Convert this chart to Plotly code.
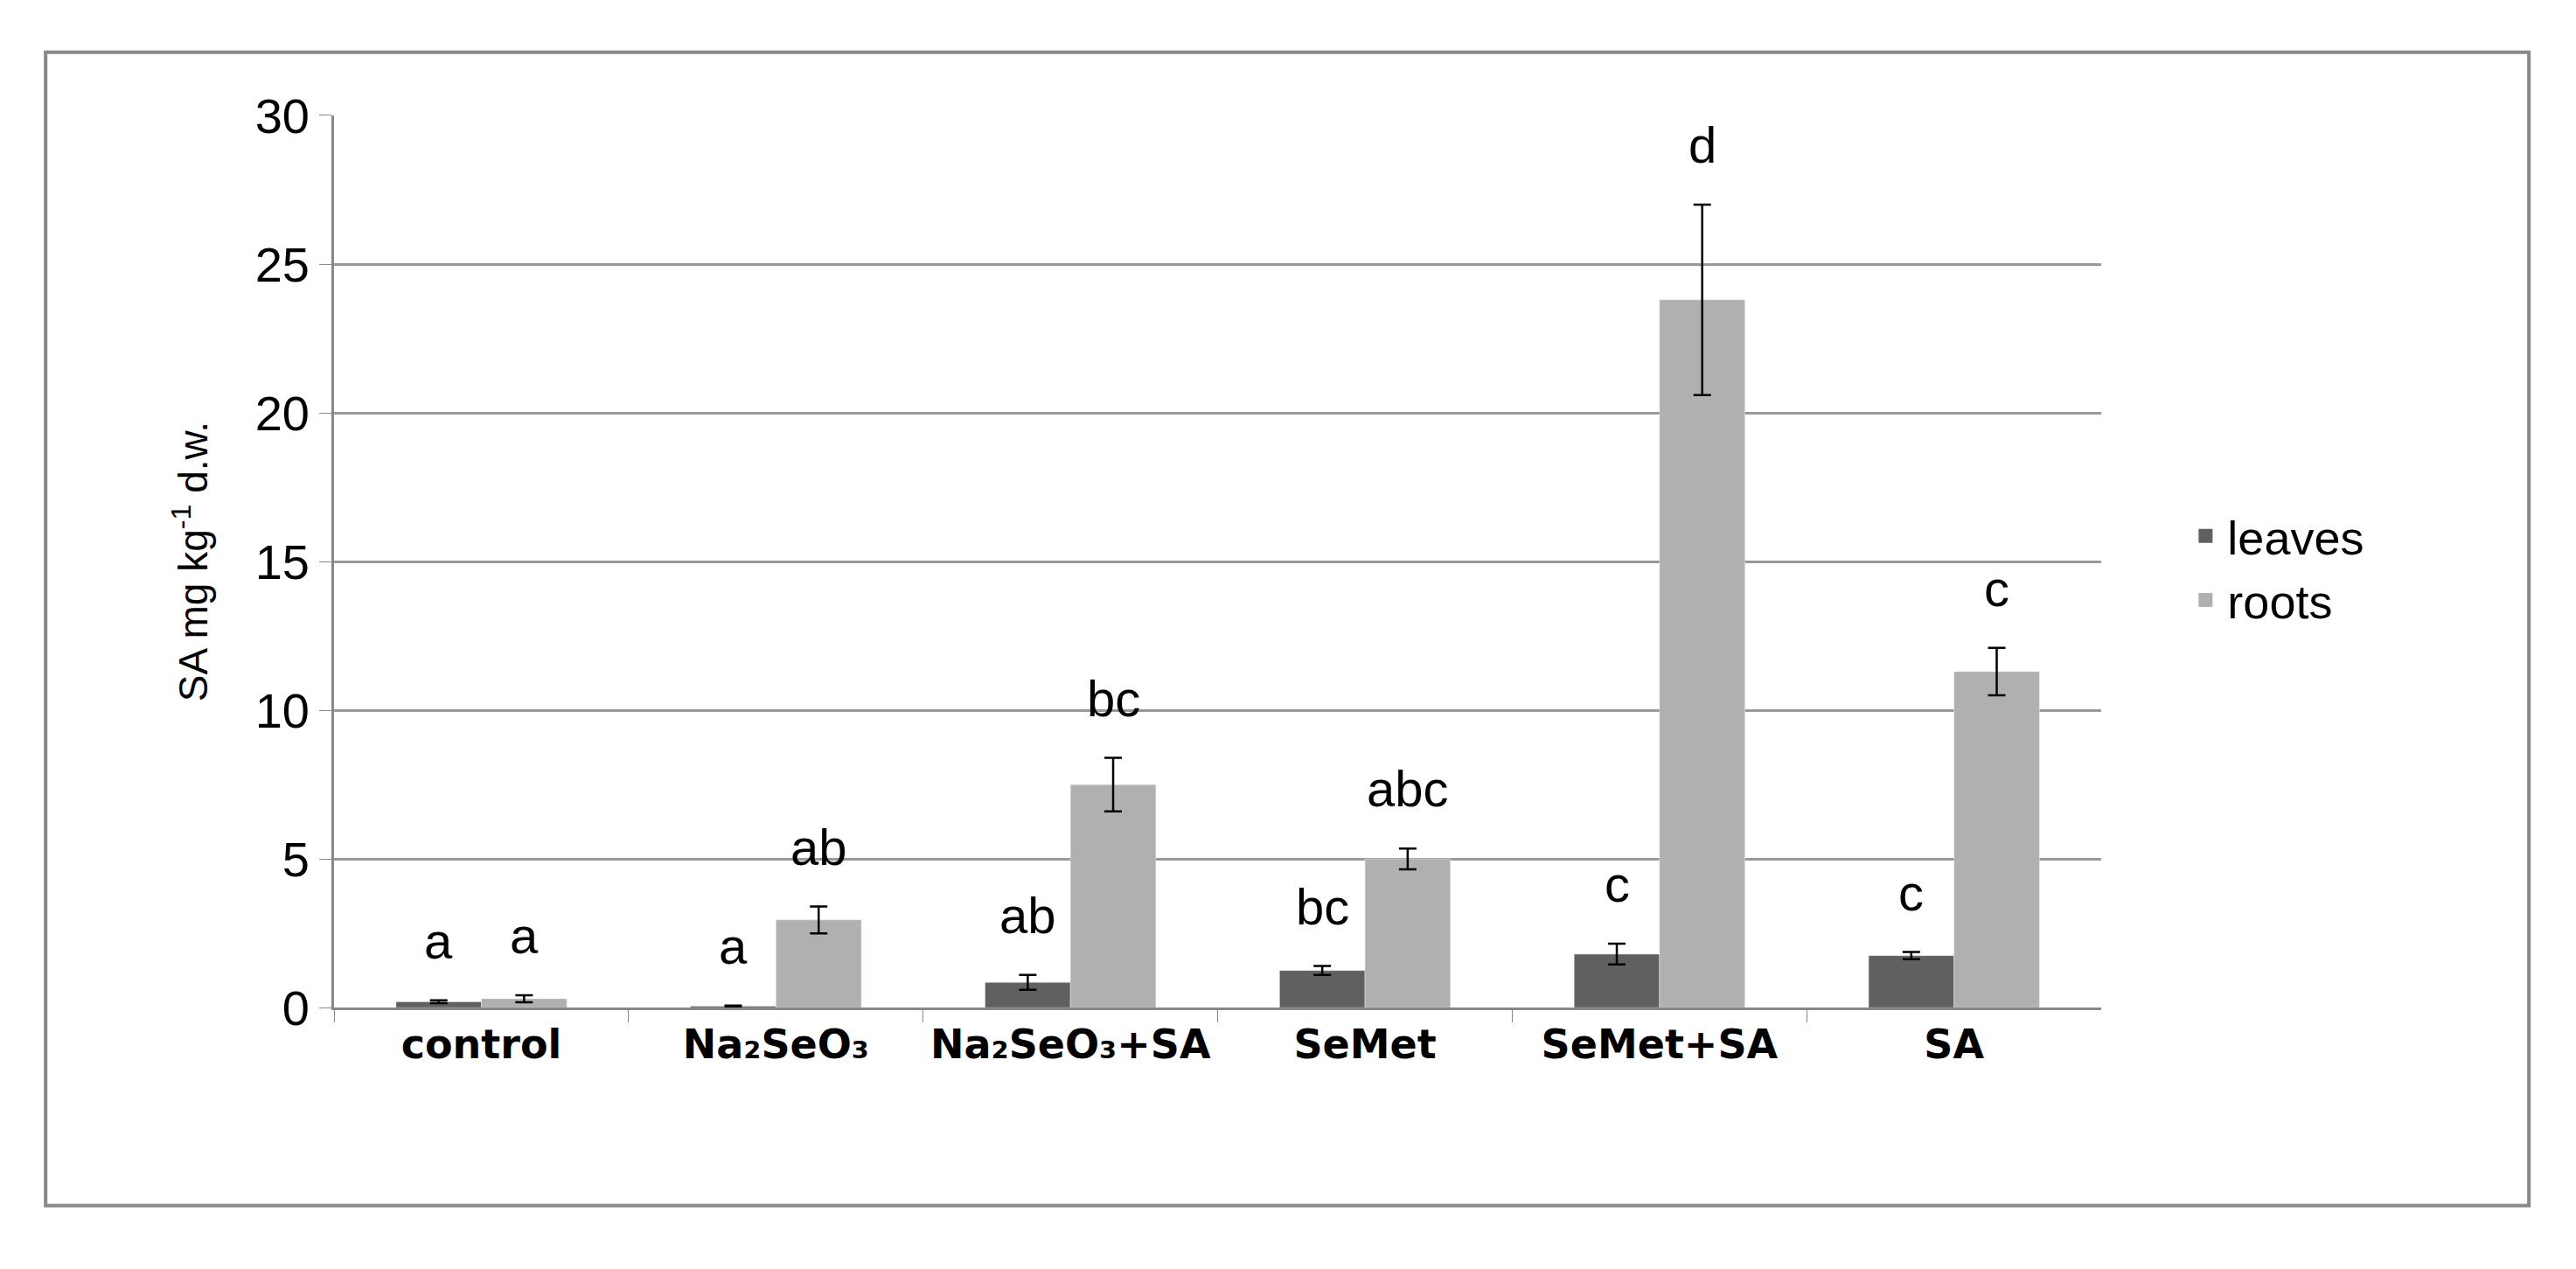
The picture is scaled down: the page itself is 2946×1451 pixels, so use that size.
import plotly.graph_objects as go

categories = ["control", "Na₂SeO₃", "Na₂SeO₃+SA", "SeMet", "SeMet+SA", "SA"]
leaves = [0.2, 0.05, 0.85, 1.25, 1.8, 1.75]
leaves_err = [0.05, 0.02, 0.25, 0.15, 0.35, 0.12]
roots = [0.3, 2.95, 7.5, 5.0, 23.8, 11.3]
roots_err = [0.12, 0.45, 0.9, 0.35, 3.2, 0.8]
leaves_letters = ["a", "a", "ab", "bc", "c", "c"]
roots_letters = ["a", "ab", "bc", "abc", "d", "c"]

fig = go.Figure()
fig.add_trace(go.Bar(x=categories, y=leaves, name="leaves", marker_color="#606060", showlegend=False,
                     error_y=dict(type="data", array=leaves_err, color="black", thickness=2.5, width=10)))
fig.add_trace(go.Bar(x=categories, y=roots, name="roots", marker_color="#b0b0b0", showlegend=False,
                     error_y=dict(type="data", array=roots_err, color="black", thickness=2.5, width=10)))
# legend entries with larger square swatches
for name, col in [("leaves", "#606060"), ("roots", "#b0b0b0")]:
    fig.add_trace(go.Scatter(x=[None], y=[None], mode="markers", name=name,
                             marker=dict(symbol="square", size=30, color=col)))

# letters above the error bars
for i, c in enumerate(categories):
    fig.add_annotation(x=i - 0.145, y=leaves[i] + leaves_err[i] + 1.0, text=leaves_letters[i],
                       showarrow=False, yanchor="bottom", font=dict(size=58, color="black"))
    fig.add_annotation(x=i + 0.145, y=roots[i] + roots_err[i] + 1.0, text=roots_letters[i],
                       showarrow=False, yanchor="bottom", font=dict(size=58, color="black"))

fig.add_shape(type="rect", xref="paper", yref="paper", x0=0.015, x1=0.979, y0=0.035, y1=0.985,
              line=dict(color="#888888", width=4))

fig.update_layout(
    width=2946, height=1451,
    margin=dict(l=0, r=0, t=0, b=0),
    paper_bgcolor="white", plot_bgcolor="white",
    barmode="group", bargap=0.42, bargroupgap=0,
    font=dict(family="Liberation Sans, Arial", color="black"),
    xaxis=dict(domain=[0.127, 0.813], showline=True, linecolor="#888888", linewidth=3,
               ticks="outside", tickson="boundaries", ticklen=14, tickcolor="#888888",
               tickfont=dict(size=46, family="DejaVu Sans", weight="bold")),
    yaxis=dict(domain=[0.198, 0.933], range=[0, 30], dtick=5, showgrid=True,
               gridcolor="#999999", gridwidth=3, showline=True, linecolor="#888888",
               linewidth=3, ticks="outside", ticklen=14, tickcolor="#888888",
               tickfont=dict(size=56), zeroline=False,
               title=dict(text="SA mg kg<sup>-1</sup> d.w.", font=dict(size=46), standoff=40)),
    legend=dict(x=0.845, y=0.56, xanchor="left", yanchor="middle", font=dict(size=54),
                tracegroupgap=30, itemwidth=40),
)

fig.write_html("out.html")
